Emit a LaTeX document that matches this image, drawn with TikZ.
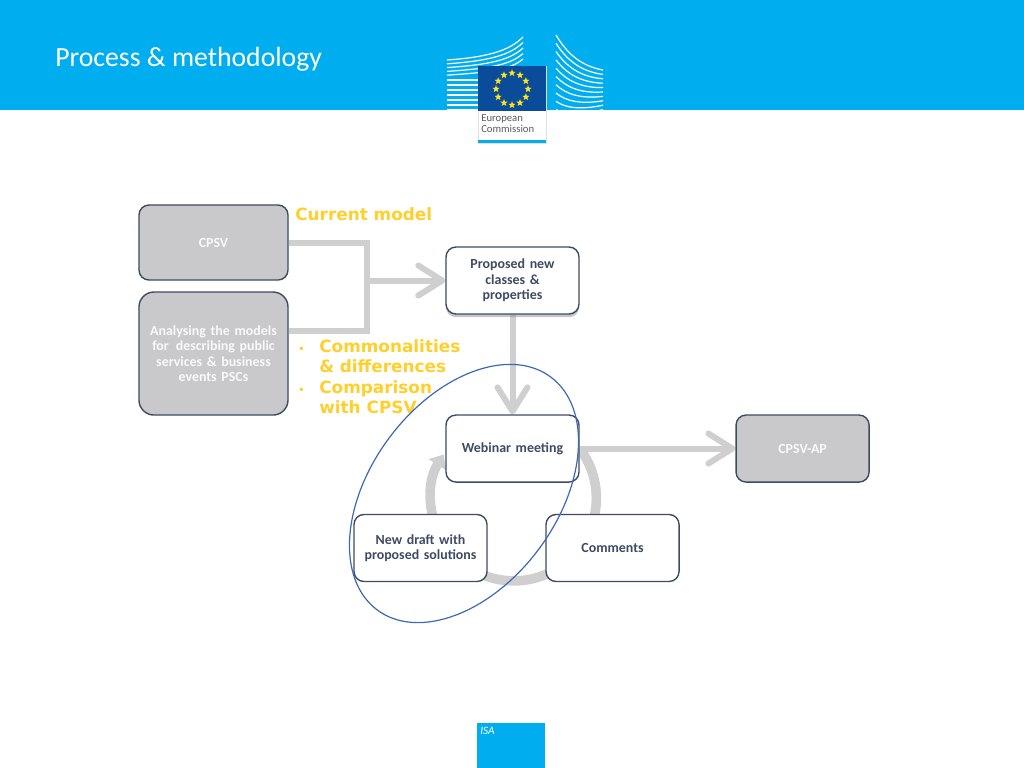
\documentclass[tikz,border=0pt]{standalone}
\usepackage{fontspec}
\setmainfont{Carlito}
\newfontfamily\yellowfont{DejaVu Sans}
\usetikzlibrary{arrows.meta,calc,positioning,backgrounds,shapes.geometric,shadows}
\definecolor{headblue}{HTML}{00AEEF}
\definecolor{flagblue}{HTML}{0A4C9A}
\definecolor{starcol}{HTML}{FFE21A}
\definecolor{edgecol}{HTML}{3F4A63}
\definecolor{boxgrey}{HTML}{C9C9CB}
\definecolor{flowgrey}{HTML}{CFCFD0}
\definecolor{notecol}{HTML}{FFCF2B}
\definecolor{ringblue}{HTML}{3D68B2}
\tikzset{
    %Define style for boxes
    procbox/.style={
           rectangle,
           rounded corners=2.5mm,
           draw=edgecol, line width=0.35mm,
           fill=white,
           text=edgecol,
           text width=3.2cm,
           minimum width=3.325cm,
           minimum height=1.675cm,
           inner sep=0pt,
           align=center,
           font=\fontsize{9.9}{11}\selectfont\bfseries},
    greybox/.style={
           procbox,
           fill=boxgrey,
           text=white!88!boxgrey,
           minimum width=3.725cm,
           text width=3.6cm},
    % Define arrow style
    flow/.style={
           draw=flowgrey,
           line width=1.5mm},
    flowtip/.style={
           -{Straight Barb[length=6mm,width=7.5mm,round]}},
    % Define style for lines of the logo
    wing/.style={
           draw=white,
           line width=0.3mm}
}
\begin{document}
\begin{tikzpicture}[x=0.025cm,y=-0.025cm]
 \useasboundingbox (0,0) rectangle (1024,768);

 %Header
 \fill[headblue] (0,0) rectangle (1024,110);
 \node[text=white,anchor=west,inner sep=0pt,font=\fontsize{19.7}{22}\selectfont] (title) at (55,59.5) {Process \& methodology};

 %Logo
 \foreach \k in {0,...,4}
   \draw[wing] (447,{60+3.8*\k}) .. controls (490,{57+3.8*\k}) and (510,{50+5*\k}) .. (523,{37+5.5*\k});
 \foreach \k in {0,...,6}
   \draw[wing] (447,{80+5*\k}) -- (478,{80+5*\k});
 \foreach \k in {0,...,9}
   \draw[wing] (556,{35+8.3*\k}) .. controls (566,{52+7*\k}) and (580,{66+5.5*\k}) .. (603,{70+4.4*\k});
 \node[fill=white,draw=black!12,minimum width=1.7cm,minimum height=1.925cm,inner sep=0pt] (panel) at (512,104.5) {};
 \fill[flagblue] (478,66) rectangle (546,111);
 \fill[headblue] (478,140) rectangle (546,143.5);
 \coordinate (flag) at (512,89);
 \foreach \a in {0,30,...,330}
   \node[star,star points=5,star point ratio=2.4,fill=starcol,minimum size=1.9mm,inner sep=0pt] (s\a) at ($(flag)+(\a:16)$) {};
 \node[anchor=north west,align=left,inner sep=0pt,text=black!65,font=\fontsize{7.6}{8.2}\selectfont] (ectext) at (481,114) {European\\Commission};

 %Process boxes
 \node[greybox,minimum height=1.875cm] (cpsv) at (213.5,242.5) {CPSV};
 \node[greybox,rounded corners=3.75mm,minimum height=3.075cm,below=0.265cm of cpsv] (models) {Analysing the models\\for\, describing public\\services \& business\\events PSCs};
 \node[procbox,drop shadow={shadow xshift=0pt,shadow yshift=-0.8mm,opacity=.45}] (proposed) at (512.5,280.5) {Proposed new\\classes \&\\properties};
 \node[procbox,below=2.49cm of proposed] (webinar) {Webinar meeting};
 \node[greybox,minimum width=3.325cm,minimum height=1.675cm,text width=3.2cm,right=3.89cm of webinar] (cpsvap) {CPSV-AP};
 \node[procbox] (draft) at (420.5,548) {New draft with\\proposed solutions};
 \node[procbox,right=1.44cm of draft] (comments) {Comments};

 %Connectors
 \coordinate (merge) at (367,280.5);
 \begin{pgfonlayer}{background}
 \draw[flow] (cpsv.east) -| (merge) |- (models.17);
 \draw[flow,flowtip] (merge) -- (proposed.west);
 \draw[flow,flowtip] (proposed.south) -- (webinar.north);
 \draw[flow,flowtip] (webinar.east) -- (cpsvap.west);
 \draw[flow,line width=2.4mm,-{Triangle[length=3mm,width=5mm]}] (webinar.east) arc[start angle=37,end angle=-212,radius=2.065cm];
 \end{pgfonlayer}

 %Notes
 \node[anchor=west,inner sep=0pt,text=notecol,font=\yellowfont\fontsize{12}{14}\selectfont\bfseries] (current) at (295,214.5) {Current model};
 \node[anchor=north west,inner sep=0pt,text=notecol,font=\yellowfont\fontsize{12}{14.6}\selectfont\bfseries] (notes) at (298,337.5) {%
   \begin{tabular}{@{}p{0.525cm}@{}l@{}}
   {\scriptsize\textbullet} & Commonalities\\
   & \& differences\\
   {\scriptsize\textbullet} & Comparison\\
   & with CPSV
   \end{tabular}};

 %Highlight
 \node[ellipse,draw=ringblue,line width=0.3mm,rotate=53.3,minimum width=7.26cm,minimum height=4.66cm,inner sep=0pt] (focus) at (464,493.5) {};

 %Footer
 \fill[headblue] (477,723) rectangle (545,768);
 \node[anchor=west,inner sep=0pt,text=white,font=\fontsize{8}{10}\selectfont\itshape] (isa) at (480,731) {ISA};
\end{tikzpicture}
\end{document}
